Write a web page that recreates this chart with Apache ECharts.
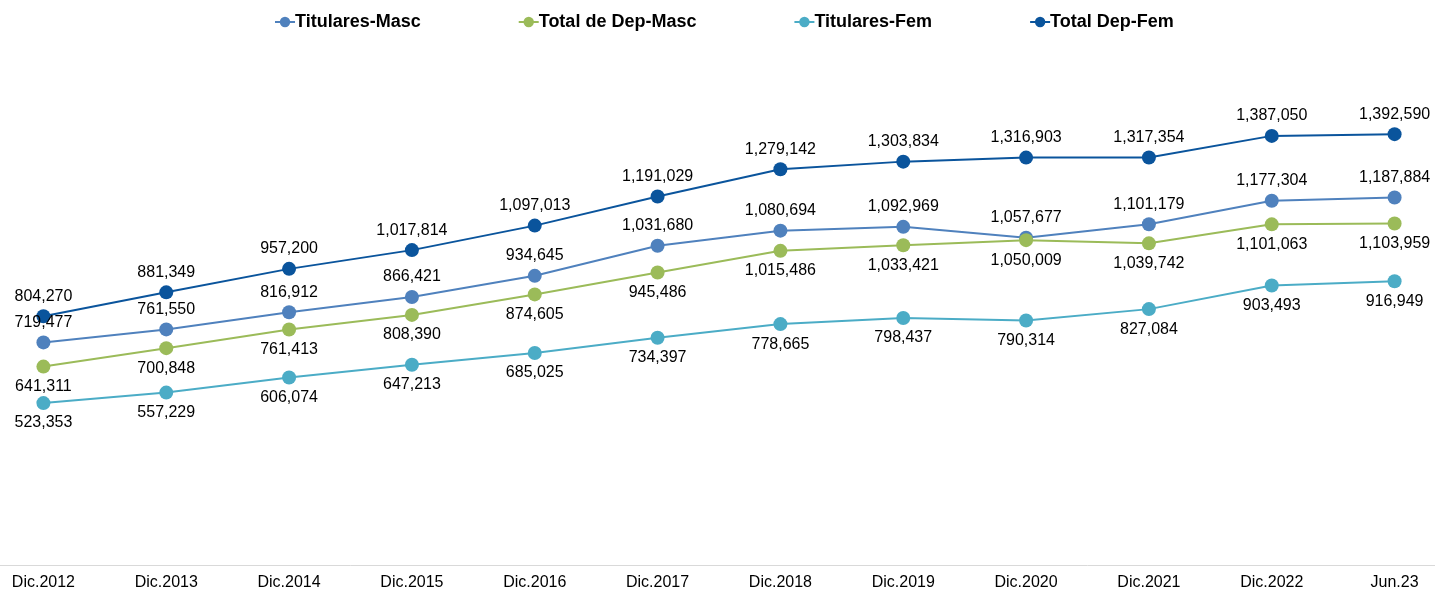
<!DOCTYPE html>
<html>
<head>
<meta charset="utf-8">
<script src="https://cdn.jsdelivr.net/npm/echarts@6/dist/echarts.min.js"></script>
<style>
  html, body { margin: 0; padding: 0; background: #fff; overflow: hidden; }
  #chart { width: 1474px; height: 592px; margin-left: -18px; }
</style>
</head>
<body>
<div id="chart"></div>
<script>
var categories = ['Dic.2012', 'Dic.2013', 'Dic.2014', 'Dic.2015', 'Dic.2016', 'Dic.2017', 'Dic.2018', 'Dic.2019', 'Dic.2020', 'Dic.2021', 'Dic.2022', 'Jun.23'];
var titularesMasc = [719477, 761550, 816912, 866421, 934645, 1031680, 1080694, 1092969, 1057677, 1101179, 1177304, 1187884];
var totalDepMasc = [641311, 700848, 761413, 808390, 874605, 945486, 1015486, 1033421, 1050009, 1039742, 1101063, 1103959];
var titularesFem = [523353, 557229, 606074, 647213, 685025, 734397, 778665, 798437, 790314, 827084, 903493, 916949];
var totalDepFem = [804270, 881349, 957200, 1017814, 1097013, 1191029, 1279142, 1303834, 1316903, 1317354, 1387050, 1392590];

function showChartLine() {
  // 实例化对象
  var myChart = echarts.init(document.getElementById('chart'));
  var font = 'Liberation Sans, Arial, sans-serif';

  function fmt(p) {
    return p.value.toLocaleString('en-US');
  }

  function makeSeries(name, data, color, pos) {
    return {
      name: name,
      type: 'line',
      data: data,
      symbol: 'circle',
      symbolSize: 14,
      lineStyle: { color: color, width: 2 },
      itemStyle: { color: color },
      label: {
        show: true,
        position: pos,
        distance: 5,
        color: '#000',
        fontSize: 16,
        fontFamily: font,
        formatter: fmt
      },
      emphasis: { disabled: true },
      animation: false
    };
  }

  var option = {
    backgroundColor: '#fff',
    legend: {
      top: 8,
      left: 287,
      itemGap: 97,
      itemWidth: 20,
      itemHeight: 13,
      textStyle: {
        color: '#000',
        fontSize: 18,
        fontWeight: 'bold',
        fontFamily: font,
        padding: [0, 0, 0, -5]
      },
      data: ['Titulares-Masc', 'Total de Dep-Masc', 'Titulares-Fem', 'Total Dep-Fem']
    },
    grid: {
      left: 0,
      right: 0,
      top: 70,
      bottom: 27,
      containLabel: false
    },
    xAxis: {
      type: 'category',
      data: categories,
      boundaryGap: true,
      axisTick: { show: false },
      axisLine: { lineStyle: { color: '#d9d9d9', width: 1 } },
      axisLabel: {
        color: '#000',
        fontSize: 16,
        fontFamily: font,
        margin: 10
      }
    },
    yAxis: {
      type: 'value',
      min: 0,
      max: 1600000,
      show: false,
      splitLine: { show: false }
    },
    series: [
      makeSeries('Titulares-Masc', titularesMasc, '#4f81bd', 'top'),
      makeSeries('Total de Dep-Masc', totalDepMasc, '#9bbb59', 'bottom'),
      makeSeries('Titulares-Fem', titularesFem, '#4bacc6', 'bottom'),
      makeSeries('Total Dep-Fem', totalDepFem, '#0a549c', 'top')
    ]
  };

  // 把配置给实例对象
  myChart.setOption(option);
  window.addEventListener('resize', function () {
    myChart.resize();
  });
}
showChartLine();
</script>
</body>
</html>
